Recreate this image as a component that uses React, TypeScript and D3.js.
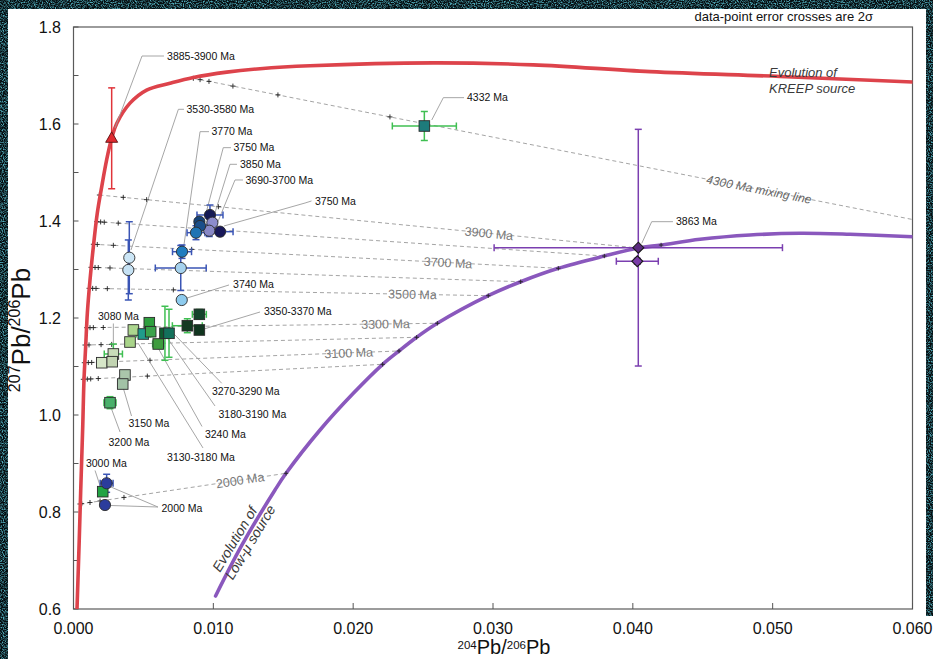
import React from "react";
import * as d3 from "d3";

type P = [number, number];
type Sample = [number, number, number, number]; // x, y, x-error, y-error (2σ)

const W = 933;
const H = 659;
const PLOT = { left: 73.5, right: 912.5, top: 27, bottom: 609 };

const xTickValues = [0, 0.01, 0.02, 0.03, 0.04, 0.05, 0.06];
const yTickValues = [0.6, 0.7, 0.8, 0.9, 1.0, 1.1, 1.2, 1.3, 1.4, 1.5, 1.6, 1.7, 1.8];
const yLabelValues = [0.6, 0.8, 1.0, 1.2, 1.4, 1.6, 1.8];

// Pb evolution of the KREEP source (204Pb/206Pb, 207Pb/206Pb)
const kreepCurve: P[] = [
  [0.00025, 0.6], [0.00041, 0.742], [0.00051, 0.839], [0.00066, 0.976], [0.00075, 1.072],
  [0.00087, 1.141], [0.00099, 1.21], [0.00118, 1.278], [0.00142, 1.347], [0.0017, 1.416],
  [0.00202, 1.471], [0.00237, 1.526], [0.00273, 1.571], [0.00309, 1.601], [0.00404, 1.643],
  [0.00523, 1.67], [0.0069, 1.684], [0.00857, 1.696], [0.01096, 1.707], [0.01334, 1.714],
  [0.01691, 1.72], [0.02573, 1.726], [0.03288, 1.722], [0.04123, 1.708], [0.05053, 1.698],
  [0.06, 1.6866],
];

// Pb evolution of the low-μ source
const lowMuCurve: P[] = [
  [0.01016, 0.6268], [0.01205, 0.732], [0.01441, 0.8454], [0.0152, 0.8798], [0.01763, 0.9691],
  [0.02001, 1.0447], [0.02211, 1.1045], [0.02328, 1.132], [0.02454, 1.1602], [0.02602, 1.1891],
  [0.02966, 1.246], [0.03198, 1.2748], [0.03467, 1.3025], [0.03796, 1.3278], [0.04039, 1.3443],
  [0.04202, 1.3505], [0.04481, 1.3623], [0.04838, 1.3711], [0.05196, 1.3746], [0.05553, 1.3726],
  [0.06, 1.3676],
];

// Age ticks on the low-μ curve (2000, 3000-3900, 4000 Ma)
const lowMuAgeTicks: P[] = [
  [0.0152, 0.8798], [0.02211, 1.1045], [0.02328, 1.132], [0.02454, 1.1602], [0.02602, 1.1891],
  [0.02966, 1.246], [0.03198, 1.2748], [0.03467, 1.3025], [0.03796, 1.3278], [0.04039, 1.3443],
  [0.04202, 1.3505],
];

// Mixing lines: KREEP end-member -> low-μ end-member at the same age
const mixingAges = [4300, 3900, 3800, 3700, 3600, 3500, 3300, 3200, 3100, 3000, 2000];
const mixingStarts: P[] = [
  [0.00857, 1.6942], [0.00185, 1.4536], [0.00166, 1.3986], [0.00142, 1.352], [0.00125, 1.3045],
  [0.00111, 1.2612], [0.00094, 1.18], [0.00082, 1.1443], [0.00077, 1.1078], [0.0007, 1.0736],
  [0.00046, 0.8165],
];
const mixingEnds: P[] = [
  [0.06, 1.4031], [0.04039, 1.3443], [0.03796, 1.3278], [0.03467, 1.3025], [0.03198, 1.2748],
  [0.02966, 1.246], [0.02602, 1.1891], [0.02454, 1.1602], [0.02328, 1.132], [0.02211, 1.1045],
  [0.0152, 0.8798],
];
const mixingTicks: number[][] = [
  [0.00857, 0.00905, 0.00969, 0.0114, 0.01462, 0.02263],
  [0.00185, 0.00356, 0.00523, 0.01036],
  [0.00166, 0.00194, 0.0022, 0.0032],
  [0.00142, 0.0017, 0.00285, 0.00845],
  [0.00125, 0.00154, 0.00177, 0.00261],
  [0.00111, 0.00137, 0.00161, 0.00242, 0.00714],
  [0.00094, 0.00118, 0.00142, 0.00213],
  [0.00082, 0.00111, 0.00197, 0.00273],
  [0.00077, 0.00106, 0.0013, 0.0019, 0.00547],
  [0.0007, 0.00099, 0.00123, 0.00177, 0.00528],
  [0.00046, 0.00059, 0.00118, 0.0019, 0.00361],
];
// Labelled mixing lines: [age, x position of the label along the line]
const mixingLabels: [number, number][] = [
  [3900, 0.02971], [3700, 0.02678], [3500, 0.02424], [3300, 0.02231], [3100, 0.01968], [2000, 0.01191],
];

// Samples
const kreepSamples: Sample[] = [[0.00273, 1.5705, 0, 0.104]];
const blueSamples: Sample[] = [
  [0.00399, 1.3243, 0.0002, 0.0742],
  [0.00392, 1.299, 0.0002, 0.0619],
  [0.00767, 1.3031, 0.00182, 0.0464],
  [0.00776, 1.3367, 0.00068, 0.0138],
  [0.00774, 1.2371, 0, 0],
  [0.00976, 1.4124, 0.00093, 0.0206],
  [0.01048, 1.378, 0.00093, 0.008],
  [0.00993, 1.3965, 0.0003, 0.008],
  [0.00971, 1.38, 0.0003, 0.012],
  [0.009, 1.3986, 0.0003, 0.008],
  [0.00905, 1.3897, 0.0003, 0.008],
  [0.00876, 1.3759, 0.00064, 0.0144],
  [0.00237, 0.8592, 0.00046, 0.0186],
  [0.00225, 0.8144, 0.0002, 0.006],
];
const blueFills = [
  "#cce6f6", "#c6e2f4", "#a6d2ee", "#1f7cbf", "#8ecbee", "#151a55", "#18185a",
  "#8c8ccc", "#8888c6", "#15437a", "#1b4f8a", "#1f74b4", "#2b3c9c", "#2b3c9c",
];
const greenSamples: Sample[] = [
  [0.00654, 1.1685, 0.0002, 0.0557],
  [0.00683, 1.1685, 0.0002, 0.0495],
  [0.00428, 1.1753, 0, 0],
  [0.00542, 1.1903, 0, 0],
  [0.00499, 1.167, 0.0005, 0],
  [0.00552, 1.1718, 0, 0.01],
  [0.00404, 1.1505, 0, 0],
  [0.00606, 1.1464, 0.0004, 0],
  [0.00814, 1.1841, 0.00107, 0.0144],
  [0.009, 1.2076, 0.0005, 0.01],
  [0.009, 1.1753, 0, 0],
  [0.00285, 1.1258, 0.00065, 0.0206],
  [0.00202, 1.1078, 0, 0],
  [0.00277, 1.1099, 0, 0],
  [0.00368, 1.0825, 0, 0],
  [0.00352, 1.0639, 0, 0],
  [0.00261, 1.0254, 0.00043, 0.0124],
  [0.00209, 0.8419, 0, 0],
  [0.02509, 1.5959, 0.00229, 0.0299],
];
const greenFills = [
  "#0f5c30", "#13715b", "#acd68e", "#2f9f3f", "#1f9b8b", "#3ba24b", "#a9d48a", "#3d9c3d",
  "#143a22", "#15442b", "#10351f", "#c9dcb9", "#d6e6c8", "#c2d4b2", "#aac6aa", "#a2c2a6",
  "#49b06a", "#21a343", "#1d7b7b",
];
const lowMuSamples: Sample[] = [
  [0.04039, 1.345, 0.01031, 0.244],
  [0.04032, 1.317, 0.0015, 0.006],
];
const lowMuFills = ["#5b2a80", "#7a3ca8"];

// Sample age labels with their leader lines
const ageNotes: { text: string; path: P[]; at: P }[] = [
  { text: "3885-3900 Ma", path: [[0.00297, 1.5918], [0.0049, 1.7402], [0.00647, 1.7402]], at: [0.00669, 1.7402] },
  { text: "3530-3580 Ma", path: [[0.00411, 1.3402], [0.0075, 1.6303], [0.0079, 1.6303]], at: [0.00808, 1.6303] },
  { text: "3770 Ma", path: [[0.0079, 1.3505], [0.00905, 1.5842], [0.00969, 1.5842]], at: [0.00987, 1.5842] },
  { text: "3750 Ma", path: [[0.00948, 1.4165], [0.01071, 1.5512], [0.01126, 1.5512]], at: [0.01144, 1.5512] },
  { text: "3850 Ma", path: [[0.00998, 1.4041], [0.01119, 1.5169], [0.01169, 1.5169]], at: [0.01191, 1.5169] },
  { text: "3690-3700 Ma", path: [[0.01026, 1.3938], [0.01155, 1.4846], [0.01212, 1.4846]], at: [0.0123, 1.4846] },
  { text: "3750 Ma", path: [[0.01076, 1.3897], [0.01656, 1.4371], [0.01702, 1.4413]], at: [0.01727, 1.4413] },
  { text: "3740 Ma", path: [[0.00812, 1.2412], [0.01112, 1.2681]], at: [0.01141, 1.2701] },
  { text: "3350-3370 Ma", path: [[0.00933, 1.1773], [0.01334, 1.2124]], at: [0.01362, 1.2134] },
  { text: "3080 Ma", path: [[0.00285, 1.1402], [0.00285, 1.1887]], at: [0.00175, 1.2031] },
  { text: "3270-3290 Ma", path: [[0.00719, 1.167], [0.0106, 1.0654]], at: [0.0099, 1.0485] },
  { text: "3180-3190 Ma", path: [[0.00676, 1.1567], [0.01012, 1.0186]], at: [0.01037, 1.0021] },
  { text: "3240 Ma", path: [[0.00597, 1.1423], [0.00919, 0.9763]], at: [0.0094, 0.9608] },
  { text: "3130-3180 Ma", path: [[0.00461, 1.1485], [0.00926, 0.932]], at: [0.00669, 0.9134] },
  { text: "3150 Ma", path: [[0.00358, 1.0536], [0.00415, 0.9979]], at: [0.00393, 0.9825] },
  { text: "3200 Ma", path: [[0.00272, 1.0124], [0.00333, 0.9649]], at: [0.0025, 0.9443] },
  { text: "3000 Ma", path: [[0.00193, 0.8515], [0.00154, 0.8856]], at: [0.00089, 0.9] },
  { text: "2000 Ma", path: [[0.00268, 0.8515], [0.00604, 0.8103], [0.00268, 0.8134]], at: [0.00629, 0.8076] },
  { text: "4332 Ma", path: [[0.02562, 1.6083], [0.02645, 1.6543], [0.02793, 1.6543]], at: [0.02814, 1.6543] },
  { text: "3863 Ma", path: [[0.04064, 1.354], [0.04135, 1.3986], [0.04287, 1.3986]], at: [0.04309, 1.3986] },
];

const FONT = "'Liberation Sans', Arial, Helvetica, sans-serif";

const x = d3.scaleLinear().domain([0, 0.06]).range([PLOT.left, PLOT.right]);
const y = d3.scaleLinear().domain([0.6, 1.8]).range([PLOT.bottom, PLOT.top]);

const smooth = d3
  .line<P>()
  .x((d) => x(d[0]))
  .y((d) => y(d[1]))
  .curve(d3.curveCatmullRom.alpha(0.5));
const straight = d3
  .line<P>()
  .x((d) => x(d[0]))
  .y((d) => y(d[1]));

function lineY(i: number, xv: number) {
  const [a, b] = [mixingStarts[i], mixingEnds[i]];
  return a[1] + ((xv - a[0]) / (b[0] - a[0])) * (b[1] - a[1]);
}

function lineAngle(i: number) {
  const a = mixingStarts[i];
  const b = mixingEnds[i];
  return (Math.atan2(y(b[1]) - y(a[1]), x(b[0]) - x(a[0])) * 180) / Math.PI;
}

function ErrorCross({ s, color }: { s: Sample; color: string }) {
  const [xv, yv, xe, ye] = s;
  const cx = x(xv);
  const cy = y(yv);
  const cap = 3.5;
  return (
    <g stroke={color} strokeWidth={1.5} fill="none">
      {xe > 0 && (
        <>
          <line x1={x(xv - xe)} x2={x(xv + xe)} y1={cy} y2={cy} />
          <line x1={x(xv - xe)} x2={x(xv - xe)} y1={cy - cap} y2={cy + cap} />
          <line x1={x(xv + xe)} x2={x(xv + xe)} y1={cy - cap} y2={cy + cap} />
        </>
      )}
      {ye > 0 && (
        <>
          <line x1={cx} x2={cx} y1={y(yv - ye)} y2={y(yv + ye)} />
          <line x1={cx - cap} x2={cx + cap} y1={y(yv - ye)} y2={y(yv - ye)} />
          <line x1={cx - cap} x2={cx + cap} y1={y(yv + ye)} y2={y(yv + ye)} />
        </>
      )}
    </g>
  );
}

function Cross({ px, py, r = 2.5 }: { px: number; py: number; r?: number }) {
  return (
    <g stroke="#222" strokeWidth={0.9}>
      <line x1={px - r} x2={px + r} y1={py} y2={py} />
      <line x1={px} x2={px} y1={py - r} y2={py + r} />
    </g>
  );
}

export default function App() {
  return (
    <svg
      width={W}
      height={H}
      viewBox={`0 0 ${W} ${H}`}
      style={{ position: "absolute", left: 0, top: 0, display: "block" }}
      fontFamily={FONT}
    >
      <defs>
        <filter id="grain" x="0" y="0" width="100%" height="100%">
          <feTurbulence type="fractalNoise" baseFrequency="0.85" numOctaves={2} seed={7} />
          <feColorMatrix
            type="matrix"
            values="0 0 0 0 0.08  0 0 0 0 0.40  0 0 0 0 0.48  3.0 0 0 0 -1.25"
          />
        </filter>
        <clipPath id="plot-clip">
          <rect x={PLOT.left} y={PLOT.top} width={PLOT.right - PLOT.left} height={PLOT.bottom - PLOT.top} />
        </clipPath>
      </defs>

      {/* dark textured surround and white sheet */}
      <rect x={0} y={0} width={W} height={H} fill="#050d10" />
      <rect x={0} y={0} width={W} height={H} filter="url(#grain)" />
      <rect x={8} y={9} width={918} height={H - 9} fill="#ffffff" />
      <rect x={880} y={616} width={W - 880} height={H - 616} fill="#ffffff" />

      {/* frame */}
      <rect
        x={PLOT.left}
        y={PLOT.top}
        width={PLOT.right - PLOT.left}
        height={PLOT.bottom - PLOT.top}
        fill="none"
        stroke="#5a5a5a"
        strokeWidth={1.2}
      />

      {/* axis ticks (inward) */}
      {yTickValues.map((v) => (
        <line key={`yt${v}`} x1={PLOT.left} x2={PLOT.left + 5} y1={y(v)} y2={y(v)} stroke="#555" strokeWidth={1} />
      ))}
      {xTickValues.map((v) => (
        <line key={`xt${v}`} x1={x(v)} x2={x(v)} y1={PLOT.bottom} y2={PLOT.bottom - 6} stroke="#555" strokeWidth={1} />
      ))}

      {/* tick labels */}
      {yLabelValues.map((v) => (
        <text key={`yl${v}`} x={61} y={y(v)} dy="0.36em" textAnchor="end" fontSize={16} fill="#111">
          {d3.format(".1f")(v)}
        </text>
      ))}
      {xTickValues.map((v) => (
        <text key={`xl${v}`} x={x(v)} y={633.5} textAnchor="middle" fontSize={16} fill="#111">
          {d3.format(".3f")(v)}
        </text>
      ))}

      {/* axis titles */}
      <text x={504} y={654} textAnchor="middle" fill="#111" fontSize={20}>
        <tspan fontSize={11.5} dy={-5.5}>204</tspan>
        <tspan dy={5.5}>Pb/</tspan>
        <tspan fontSize={11.5} dy={-5.5}>206</tspan>
        <tspan dy={5.5}>Pb</tspan>
      </text>
      <text transform="translate(30,330) rotate(-90)" textAnchor="middle" fill="#111" fontSize={26}>
        <tspan fontSize={16} dy={-10}>207</tspan>
        <tspan dy={10}>Pb/</tspan>
        <tspan fontSize={16} dy={-10}>206</tspan>
        <tspan dy={10}>Pb</tspan>
      </text>

      <text x={873} y={21} textAnchor="end" fontSize={13} fill="#111">
        data-point error crosses are 2σ
      </text>

      <g clipPath="url(#plot-clip)">
        {/* mixing lines */}
        {mixingAges.map((age, i) => (
          <path
            key={`ml${age}`}
            d={straight([mixingStarts[i], mixingEnds[i]]) ?? ""}
            fill="none"
            stroke="#9a9a9a"
            strokeWidth={0.9}
            strokeDasharray="4 3"
          />
        ))}
        {mixingAges.map((age, i) =>
          mixingTicks[i].map((tx, j) => <Cross key={`mt${age}-${j}`} px={x(tx)} py={y(lineY(i, tx))} />)
        )}

        {/* evolution curves */}
        <path d={smooth(kreepCurve) ?? ""} fill="none" stroke="#dd434b" strokeWidth={3.6} strokeLinecap="round" />
        <path d={smooth(lowMuCurve) ?? ""} fill="none" stroke="#8a58bd" strokeWidth={3.6} strokeLinecap="round" />
        {lowMuAgeTicks.map((d, i) => (
          <Cross key={`lt${i}`} px={x(d[0])} py={y(d[1])} r={2.2} />
        ))}
      </g>

      {/* mixing-line age labels */}
      {mixingLabels.map(([age, lx]) => {
        const i = mixingAges.indexOf(age);
        return (
          <text
            key={`mlab${age}`}
            transform={`translate(${x(lx)},${y(lineY(i, lx))}) rotate(${lineAngle(i)})`}
            textAnchor="middle"
            dy="0.36em"
            fontSize={12.5}
            fill="#7a7a7a"
          >
            {`${age} Ma`}
          </text>
        );
      })}
      <text
        transform={`translate(${x(0.04902)},${y(lineY(0, 0.04902))}) rotate(${lineAngle(0)})`}
        textAnchor="middle"
        dy="0.36em"
        fontSize={12}
        fontStyle="italic"
        fill="#666"
      >
        4300 Ma mixing line
      </text>

      {/* curve names */}
      <g fontStyle="italic" fill="#3a3a3a">
        <text x={769} y={77} fontSize={13}>Evolution of</text>
        <text x={769} y={93} fontSize={13}>KREEP source</text>
        <g transform="translate(220,573) rotate(-59)" fontSize={14}>
          <text x={0} y={0}>Evolution of</text>
          <text x={0} y={15}>Low-μ source</text>
        </g>
      </g>

      {/* leader lines */}
      {ageNotes.map((n, i) => (
        <path key={`ll${i}`} d={straight(n.path) ?? ""} fill="none" stroke="#9c9c9c" strokeWidth={0.9} />
      ))}

      {/* error crosses */}
      {lowMuSamples.map((s, i) => (
        <ErrorCross key={`le${i}`} s={s} color="#7b3fb0" />
      ))}
      {kreepSamples.map((s, i) => (
        <ErrorCross key={`ke${i}`} s={s} color="#e0343a" />
      ))}
      {blueSamples.map((s, i) => (
        <ErrorCross key={`be${i}`} s={s} color="#3a55b5" />
      ))}
      {greenSamples.map((s, i) => (
        <ErrorCross key={`ge${i}`} s={s} color="#3fbf52" />
      ))}

      {/* sample markers */}
      {greenSamples.map((s, i) => (
        <rect
          key={`gm${i}`}
          x={x(s[0]) - 5.3}
          y={y(s[1]) - 5.3}
          width={10.6}
          height={10.6}
          fill={greenFills[i]}
          stroke="#2a2a2a"
          strokeWidth={0.9}
        />
      ))}
      {blueSamples.map((s, i) => (
        <circle key={`bm${i}`} cx={x(s[0])} cy={y(s[1])} r={5.6} fill={blueFills[i]} stroke="#2a2a2a" strokeWidth={0.9} />
      ))}
      {kreepSamples.map((s, i) => {
        const cx = x(s[0]);
        const cy = y(s[1]);
        return (
          <path
            key={`km${i}`}
            d={`M${cx},${cy - 6.5}L${cx + 6},${cy + 4}L${cx - 6},${cy + 4}Z`}
            fill="#e02a30"
            stroke="#5a1010"
            strokeWidth={0.9}
          />
        );
      })}
      {lowMuSamples.map((s, i) => {
        const cx = x(s[0]);
        const cy = y(s[1]);
        const r = 5.5;
        return (
          <path
            key={`lm${i}`}
            d={`M${cx},${cy - r}L${cx + r},${cy}L${cx},${cy + r}L${cx - r},${cy}Z`}
            fill={lowMuFills[i]}
            stroke="#1a1a1a"
            strokeWidth={1.1}
          />
        );
      })}

      {/* sample age labels */}
      {ageNotes.map((n, i) => (
        <text key={`al${i}`} x={x(n.at[0])} y={y(n.at[1])} dy="0.36em" fontSize={10.5} fill="#111">
          {n.text}
        </text>
      ))}
    </svg>
  );
}
